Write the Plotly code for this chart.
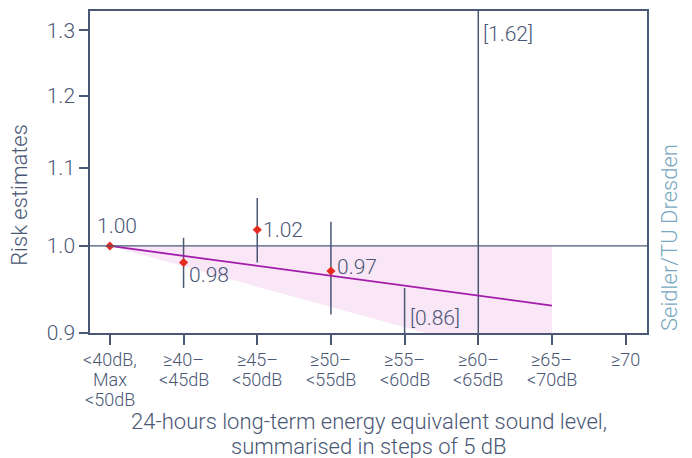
import numpy as np
import plotly.graph_objects as go

# Exposure categories (24 h Leq, 5 dB steps) and tick label lines
categories = ["<40", "40-45", "45-50", "50-55", "55-60", "60-65", "65-70", ">=70"]
tick_labels = [
    ["<40dB,", "Max", "<50dB"],
    ["≥40–", "<45dB"],
    ["≥45–", "<50dB"],
    ["≥50–", "<55dB"],
    ["≥55–", "<60dB"],
    ["≥60–", "<65dB"],
    ["≥65–", "<70dB"],
    ["≥70"],
]

# Point estimates (shown categories only)
est_idx = [0, 1, 2, 3]
est_val = [1.00, 0.98, 1.02, 0.97]

# Confidence intervals drawn as plain vertical bars
ci_idx = [1, 2, 3, 4, 5]
ci_low = [0.95, 0.98, 0.92, 0.86, 0.81]
ci_high = [1.01, 1.06, 1.03, 0.95, 1.62]

# Linear trend (log scale) and its lower confidence band
trend_idx = [0, 6]
trend_val = [1.00, 0.93]
band_upper = [1.00, 1.00]
band_lower = [1.00, 0.862]

y_ticks = [0.9, 1.0, 1.1, 1.2, 1.3]

x_title = ["24-hours long-term energy equivalent sound level,",
           "summarised in steps of 5 dB"]

SLATE = "#4a5775"
FONT = "Roboto"
W = 300  # light weight


def f(size, color=SLATE):
    return dict(family=FONT, size=size, color=color, weight=W)


fig = go.Figure()

# confidence band
fig.add_trace(go.Scatter(x=trend_idx, y=band_lower, mode="lines",
                         line=dict(width=0, color="#f9e6f6"), hoverinfo="skip"))
fig.add_trace(go.Scatter(x=trend_idx, y=band_upper, mode="lines", fill="tonexty",
                         fillcolor="#f9e6f6", line=dict(width=0, color="#f9e6f6"),
                         hoverinfo="skip"))

# CI bars
bx, by = [], []
for i, lo, hi in zip(ci_idx, ci_low, ci_high):
    bx += [i, i, None]
    by += [lo, hi, None]
fig.add_trace(go.Scatter(x=bx, y=by, mode="lines",
                         line=dict(color=SLATE, width=1.5), hoverinfo="skip"))

# trend line
fig.add_trace(go.Scatter(x=trend_idx, y=trend_val, mode="lines",
                         line=dict(color="#a21cab", width=1.8)))

# point estimates
fig.add_trace(go.Scatter(x=est_idx, y=est_val, mode="markers",
                         marker=dict(symbol="diamond", size=7, color="#e42b1f")))

# reference line at 1.0
fig.add_shape(type="line", xref="paper", x0=0, x1=1, y0=1.0, y1=1.0,
              line=dict(color=SLATE, width=1.2), layer="above")

annotations = []
# value labels next to the estimates: (xanchor, xshift, yshift)
label_pos = [("center", 7, 20), ("left", 3, -12), ("left", 4, 0), ("left", 4, 4)]
for i, v, (anc, xs, ys) in zip(est_idx, est_val, label_pos):
    annotations.append(dict(x=i, y=np.log10(v), xref="x", yref="y",
                            text=f"{v:.2f}", showarrow=False, xanchor=anc,
                            yanchor="middle", xshift=xs, yshift=ys, font=f(21)))

# bracketed bounds that fall outside the plotted range
annotations.append(dict(x=ci_idx[3], y=0, xref="x", yref="paper",
                        text=f"[{ci_low[3]:.2f}]", showarrow=False,
                        xanchor="left", yanchor="bottom", xshift=3, yshift=1,
                        font=f(21)))
annotations.append(dict(x=ci_idx[4], y=1, xref="x", yref="paper",
                        text=f"[{ci_high[4]:.2f}]", showarrow=False,
                        xanchor="left", yanchor="top", xshift=3, yshift=-9,
                        font=f(21)))

# category tick labels, one line at a time
for i, lines in enumerate(tick_labels):
    for j, line in enumerate(lines):
        annotations.append(dict(x=i, y=0, xref="x", yref="paper", text=line,
                                showarrow=False, xanchor="center", yanchor="middle",
                                yshift=-(26 + 20 * j), font=f(18)))

# x axis title, one line at a time
for j, line in enumerate(x_title):
    annotations.append(dict(x=0.5, y=0, xref="paper", yref="paper", text=line,
                            showarrow=False, xanchor="center", yanchor="middle",
                            yshift=-(88 + 25 * j), font=f(22)))

# y axis title
annotations.append(dict(x=0, y=0.429, xref="paper", yref="paper",
                        text="Risk estimates", textangle=-90, showarrow=False,
                        xanchor="center", yanchor="middle", xshift=-70,
                        font=f(22)))

# source
annotations.append(dict(x=1, y=0.295, xref="paper", yref="paper",
                        text="Seidler/TU Dresden", textangle=-90, showarrow=False,
                        xanchor="center", yanchor="middle", xshift=22,
                        font=f(22, "#79a8c1")))

fig.update_layout(
    width=692, height=458,
    margin=dict(l=90, r=45, t=9, b=125),
    paper_bgcolor="white", plot_bgcolor="white",
    showlegend=False,
    font=f(18),
    annotations=annotations,
    xaxis=dict(range=[-0.27, 7.29], tickvals=list(range(len(categories))),
               showticklabels=False, ticks="outside", ticklen=10, tickwidth=1.5,
               tickcolor=SLATE, showline=True, linecolor=SLATE, linewidth=1.5,
               mirror=True, showgrid=False, zeroline=False),
    yaxis=dict(type="log", range=[np.log10(0.8995), np.log10(1.331)],
               tickvals=y_ticks, ticktext=[f"{t:.1f}" for t in y_ticks],
               ticks="outside", ticklen=9, tickwidth=1.5, tickcolor=SLATE,
               tickfont=f(21),
               showline=True, linecolor=SLATE, linewidth=1.5, mirror=True,
               showgrid=False, zeroline=False),
)

fig.write_html("out.html")
